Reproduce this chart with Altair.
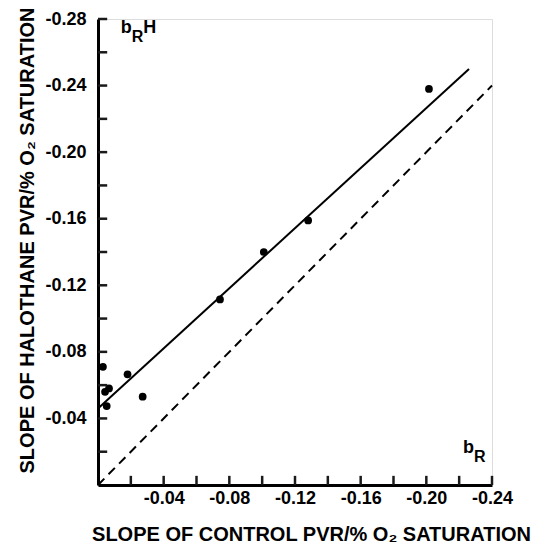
import altair as alt
import pandas as pd

# data
control = [-0.2016, -0.128, -0.101, -0.0743, -0.003, -0.018, -0.0043, -0.0067, -0.0053, -0.0272]
halothane = [-0.238, -0.159, -0.140, -0.1115, -0.071, -0.0665, -0.0560, -0.0580, -0.0474, -0.0531]

fit_x = [0.0, -0.226]
fit_y = [-0.046, -0.250]
ident_x = [0.0, -0.24]
ident_y = [0.0, -0.24]

x_ticks = [-0.02, -0.04, -0.06, -0.08, -0.10, -0.12, -0.14, -0.16, -0.18, -0.20, -0.22, -0.24]
y_ticks = [-0.02, -0.04, -0.06, -0.08, -0.10, -0.12, -0.14, -0.16, -0.18, -0.20, -0.22, -0.24, -0.26, -0.28]
x_labels = [-0.04, -0.08, -0.12, -0.16, -0.20, -0.24]
y_labels = [-0.04, -0.08, -0.12, -0.16, -0.20, -0.24, -0.28]
tick_len_x = -0.0055   # inward tick length in y units
tick_len_y = -0.0056   # inward tick length in x units

ann_text = ["b", "R", "H", "b", "R"]
ann_x = [-0.0139, -0.0206, -0.0276, -0.2224, -0.2291]
ann_y = [-0.2715, -0.2660, -0.2715, -0.0192, -0.0141]
ann_size = [18, 16, 18, 18, 16]

x_title = "SLOPE OF CONTROL PVR/% O\u2082 SATURATION"
y_title = "SLOPE OF HALOTHANE PVR/% O\u2082 SATURATION"

FONT = "Liberation Sans"
W, H = 394, 466

pts = pd.DataFrame({"x": control, "y": halothane})
fit = pd.DataFrame({"x": fit_x, "y": fit_y})
ident = pd.DataFrame({"x": ident_x, "y": ident_y})
xt = pd.DataFrame({"x": x_ticks, "y": [0.0] * len(x_ticks), "y2": [tick_len_x] * len(x_ticks)})
yt = pd.DataFrame({"y": y_ticks, "x": [0.0] * len(y_ticks), "x2": [tick_len_y] * len(y_ticks)})
ann = pd.DataFrame({"x": ann_x, "y": ann_y, "t": ann_text, "s": ann_size})

xs = alt.Scale(domain=[0, -0.24], nice=False, zero=False)
ys = alt.Scale(domain=[0, -0.28], nice=False, zero=False)

xaxis = alt.Axis(
    values=x_labels,
    labelExpr="'-' + format(abs(datum.value), '.2f')",
    ticks=False, grid=False,
    domainWidth=3, domainColor="black",
    labelFont=FONT, labelFontSize=18, labelFontWeight="bold", labelColor="black",
    labelPadding=4, labelFlush=False, labelOverlap=False, labelBound=False,
    title=x_title, titleFont=FONT, titleFontSize=20, titleFontWeight="bold",
    titleColor="black", titleX=213, titleY=55, titleBaseline="alphabetic",
    titleAlign="center", titleAnchor="middle",
)
yaxis = alt.Axis(
    values=y_labels,
    labelExpr="'-' + format(abs(datum.value), '.2f')",
    ticks=False, grid=False,
    domainWidth=3, domainColor="black",
    labelFont=FONT, labelFontSize=18, labelFontWeight="bold", labelColor="black",
    labelPadding=12, labelFlush=False, labelOverlap=False, labelBound=False,
    title=y_title, titleFont=FONT, titleFontSize=20, titleFontWeight="bold",
    titleColor="black", titleX=-65, titleY=221, titleAngle=-90,
    titleBaseline="alphabetic", titleAlign="center", titleAnchor="middle",
)

xenc = alt.X("x:Q", scale=xs, axis=xaxis)
yenc = alt.Y("y:Q", scale=ys, axis=yaxis)

points = alt.Chart(pts).mark_circle(size=60, color="black", opacity=1).encode(x=xenc, y=yenc)
fit_line = alt.Chart(fit).mark_line(color="black", strokeWidth=2).encode(x=xenc, y=yenc)
ident_line = alt.Chart(ident).mark_line(color="black", strokeWidth=2, strokeDash=[9, 6]).encode(x=xenc, y=yenc)

xtick = alt.Chart(xt).mark_rule(color="#1a1a1a", strokeWidth=2.5, opacity=1).encode(
    x=xenc, y=yenc, y2="y2:Q"
)
ytick = alt.Chart(yt).mark_rule(color="#1a1a1a", strokeWidth=2.5, opacity=1).encode(
    y=yenc, x=xenc, x2="x2:Q"
)

labels = alt.Chart(ann).mark_text(
    font=FONT, fontWeight="bold", color="black", align="left", baseline="alphabetic"
).encode(x=xenc, y=yenc, text="t:N", size=alt.Size("s:Q", scale=None, legend=None))

chart = alt.layer(ident_line, fit_line, points, labels, xtick, ytick).properties(
    width=W, height=H,
    autosize=alt.AutoSizeParams(type="none"),
    padding={"left": 90, "top": 11, "right": 40, "bottom": 62},
).configure_view(stroke=None).configure(background="white")

chart.save("out.html", embed_options={"renderer": "svg", "actions": False})
